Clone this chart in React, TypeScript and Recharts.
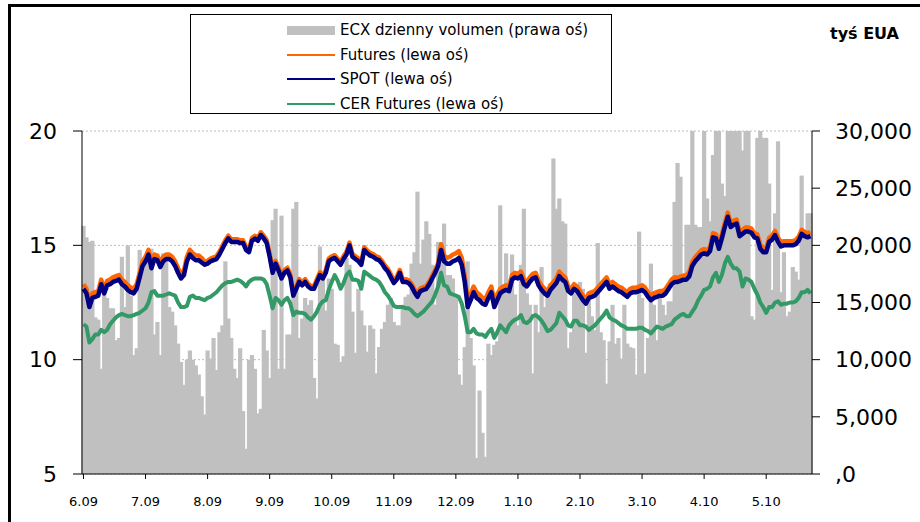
import React from 'react';
import { ComposedChart, Bar, Line, XAxis, YAxis, CartesianGrid } from 'recharts';

// month tick labels, one every 21 trading days
const monthLabels = ['6.09', '7.09', '8.09', '9.09', '10.09', '11.09', '12.09', '1.10', '2.10', '3.10', '4.10', '5.10'];
const daysPerMonth = 21;

// ECX daily volume (right axis, tys EUA)
const volume = [
  21700, 20700, 20300, 20400, 13700, 13500, 9200, 16200, 15400, 14500,
  14500, 11700, 11900, 19000, 14600, 20000, 15600, 10400, 11000, 19600,
  17700, 18900, 19200, 19700, 12200, 13300, 10400, 19300, 19200, 14600,
  14200, 13000, 11400, 9800, 7800, 10000, 10800, 10000, 9500, 8700,
  6800, 5200, 10800, 10100, 11900, 9100, 12400, 13000, 18600, 13600,
  11900, 9200, 8400, 11000, 5500, 2200, 10000, 10400, 9200, 5300,
  5700, 12600, 10800, 8400, 22200, 23200, 9200, 22600, 9200, 12200,
  12200, 23200, 23800, 11900, 13600, 15400, 14800, 15200, 8400, 6600,
  19900, 17500, 14300, 17100, 16200, 11400, 11300, 9800, 10300, 18900,
  18300, 14200, 10600, 16200, 14300, 13000, 10700, 13000, 12700, 8800,
  11100, 12700, 13300, 14800, 15400, 13300, 13000, 13000, 14800, 15500,
  15700, 18400, 19400, 24700, 18400, 20500, 22100, 21000, 18300, 14800,
  20300, 20200, 21900, 17400, 17400, 17100, 15400, 8700, 7800, 11100,
  18600, 11900, 9500, 1400, 7300, 3600, 1500, 11400, 10400, 11300,
  11600, 23500, 16200, 19300, 16800, 19200, 15700, 13000, 18300, 23200,
  15800, 14800, 8800, 14800, 12400, 18100, 14600, 16200, 16700, 27600,
  23200, 24100, 22100, 21900, 11000, 12400, 16700, 15800, 16800, 16200,
  10600, 15900, 13800, 12600, 20200, 12400, 11700, 7900, 11600, 14800,
  11400, 11900, 10100, 14800, 11400, 11100, 11000, 8700, 21200, 15400,
  8800, 11900, 18400, 14800, 11700, 15400, 14800, 13900, 15100, 15100,
  23800, 27200, 26000, 17000, 21800, 21800, 31000, 21800, 21600, 21600,
  31000, 24100, 22100, 27900, 30500, 32000, 25400, 24300, 31000, 30500,
  33000, 31000, 30500, 28300, 31000, 30500, 13800, 13500, 29400, 31000,
  29400, 29400, 25400, 16100, 22800, 29100, 15900, 19400, 13800, 14200,
  18100, 17700, 17000, 26100, 20600, 22800, 22800,
];

// Futures (left axis, EUR)
const futures = [
  13.3, 13.1, 12.5, 12.9, 12.95, 13.0, 13.5, 13.1, 13.45, 13.5,
  13.6, 13.65, 13.7, 13.5, 13.4, 13.25, 13.15, 13.1, 13.3, 13.8,
  14.3, 14.5, 14.8, 14.2, 14.6, 14.55, 14.25, 14.5, 14.6, 14.6,
  14.5, 14.3, 14.0, 13.75, 13.9, 14.5, 14.8, 14.65, 14.55, 14.55,
  14.45, 14.27, 14.32, 14.42, 14.47, 14.52, 14.72, 14.97, 15.22, 15.42,
  15.27, 15.27, 15.27, 15.22, 15.22, 14.92, 14.82, 15.32, 15.42, 15.32,
  15.57, 15.42, 15.22, 14.62, 13.92, 14.32, 14.02, 13.67, 13.92, 14.02,
  13.72, 12.92, 13.22, 13.52, 13.37, 13.52, 13.32, 13.22, 13.22, 13.52,
  13.82, 13.67, 13.92, 14.42, 14.52, 14.57, 14.42, 14.27, 14.52, 14.72,
  15.12, 14.62, 14.52, 14.42, 14.27, 14.92, 14.77, 14.67, 14.62, 14.52,
  14.47, 14.32, 14.12, 13.97, 13.72, 13.47, 13.62, 13.92, 13.52, 13.52,
  13.47, 13.32, 13.07, 12.87, 13.12, 13.17, 13.22, 13.42, 13.67, 13.92,
  14.22, 15.05, 14.55, 14.45, 14.5, 14.6, 14.65, 14.75, 14.45, 13.65,
  12.6, 12.85, 13.2, 12.95, 12.85, 12.7, 12.65, 12.95, 13.2, 12.55,
  12.85, 13.1, 13.2, 13.25, 13.2, 13.7, 13.8, 13.75, 13.85, 13.5,
  13.4, 13.6, 13.75, 13.8, 13.45, 13.25, 13.1, 13.0, 13.25, 13.4,
  13.55, 13.85, 13.7, 13.6, 13.2, 13.1, 13.3, 13.2, 13.0, 12.8,
  12.65, 12.9, 12.95, 13.0, 13.15, 13.3, 13.45, 13.6, 13.3, 13.4,
  13.3, 13.2, 13.15, 13.05, 12.95, 13.1, 13.15, 13.15, 13.2, 13.25,
  13.15, 12.95, 12.8, 12.9, 12.95, 13.0, 13.0, 13.1, 13.3, 13.5,
  13.6, 13.58, 13.63, 13.68, 13.68, 13.83, 14.28, 14.48, 14.63, 14.78,
  14.83, 14.78, 14.93, 15.53, 15.48, 15.03, 15.48, 15.98, 16.43, 15.98,
  16.08, 16.13, 15.58, 15.68, 15.78, 15.78, 15.73, 15.53, 15.48, 15.03,
  14.88, 14.88, 15.33, 15.43, 15.63, 15.33, 15.13, 15.18, 15.18, 15.18,
  15.18, 15.23, 15.38, 15.68, 15.58, 15.53, 15.58,
];

// SPOT (left axis, EUR)
const spot = [
  13.1, 12.9, 12.3, 12.7, 12.75, 12.8, 13.3, 12.9, 13.25, 13.3,
  13.4, 13.45, 13.5, 13.3, 13.2, 13.05, 12.95, 12.9, 13.1, 13.6,
  14.1, 14.3, 14.6, 14.0, 14.4, 14.35, 14.05, 14.3, 14.4, 14.4,
  14.3, 14.1, 13.8, 13.55, 13.7, 14.3, 14.6, 14.45, 14.35, 14.35,
  14.25, 14.15, 14.2, 14.3, 14.35, 14.4, 14.6, 14.85, 15.1, 15.3,
  15.15, 15.15, 15.15, 15.1, 15.1, 14.8, 14.7, 15.2, 15.3, 15.2,
  15.45, 15.3, 15.1, 14.5, 13.8, 14.2, 13.9, 13.55, 13.8, 13.9,
  13.6, 12.8, 13.1, 13.4, 13.25, 13.4, 13.2, 13.1, 13.1, 13.4,
  13.7, 13.55, 13.8, 14.3, 14.4, 14.45, 14.3, 14.15, 14.4, 14.6,
  15.0, 14.5, 14.4, 14.3, 14.15, 14.8, 14.65, 14.55, 14.5, 14.4,
  14.35, 14.2, 14.0, 13.85, 13.6, 13.35, 13.5, 13.8, 13.4, 13.4,
  13.35, 13.2, 12.95, 12.75, 13.0, 13.05, 13.1, 13.3, 13.55, 13.8,
  14.1, 14.8, 14.3, 14.2, 14.2, 14.3, 14.35, 14.45, 14.15, 13.4,
  12.3, 12.6, 12.95, 12.7, 12.6, 12.45, 12.4, 12.7, 12.95, 12.3,
  12.6, 12.9, 13.0, 13.05, 13.0, 13.5, 13.6, 13.55, 13.65, 13.3,
  13.2, 13.4, 13.55, 13.6, 13.25, 13.05, 12.9, 12.8, 13.05, 13.2,
  13.35, 13.65, 13.5, 13.4, 13.0, 12.9, 13.1, 13.0, 12.8, 12.6,
  12.45, 12.7, 12.75, 12.8, 12.95, 13.1, 13.25, 13.4, 13.1, 13.2,
  13.1, 13.0, 12.95, 12.85, 12.75, 12.9, 12.95, 12.95, 13.0, 13.05,
  12.95, 12.75, 12.6, 12.7, 12.75, 12.8, 12.8, 12.9, 13.1, 13.3,
  13.4, 13.4, 13.45, 13.5, 13.5, 13.65, 14.1, 14.3, 14.45, 14.6,
  14.65, 14.6, 14.75, 15.35, 15.3, 14.85, 15.3, 15.8, 16.25, 15.8,
  15.9, 15.95, 15.4, 15.5, 15.6, 15.6, 15.55, 15.35, 15.3, 14.85,
  14.7, 14.7, 15.15, 15.25, 15.45, 15.15, 14.95, 15.0, 15.0, 15.0,
  15.0, 15.05, 15.2, 15.5, 15.4, 15.35, 15.4,
];

// CER Futures (left axis, EUR)
const cer = [
  11.55, 11.45, 10.75, 10.9, 11.1, 11.1, 11.3, 11.2, 11.3, 11.55,
  11.7, 11.85, 11.95, 12.0, 11.95, 11.9, 11.9, 11.95, 12.0, 12.05,
  12.15, 12.25, 12.5, 12.95, 13.0, 12.8, 12.8, 12.8, 12.85, 12.9,
  12.85, 12.8, 12.5, 12.3, 12.3, 12.35, 12.75, 12.8, 12.7, 12.7,
  12.65, 12.6, 12.7, 12.75, 12.85, 12.95, 13.1, 13.25, 13.35, 13.4,
  13.4, 13.45, 13.5, 13.45, 13.35, 13.2, 13.4, 13.5, 13.55, 13.55,
  13.55, 13.5, 13.3, 12.8, 12.25, 12.7, 12.6, 12.4, 12.6, 12.7,
  12.45, 11.95, 12.1, 12.05, 12.05, 12.0, 11.85, 11.75, 11.9, 12.1,
  12.4, 12.55, 12.6, 13.05, 13.4, 13.7, 13.45, 13.1, 13.35, 13.7,
  13.85, 13.5, 13.5, 13.45, 13.1, 13.85, 13.75, 13.65, 13.55, 13.5,
  13.4, 13.2, 12.95, 12.8, 12.6, 12.35, 12.3, 12.3, 12.3, 12.25,
  12.25, 12.15, 12.0, 11.9, 12.0, 12.1, 12.25, 12.4, 12.55, 12.85,
  13.2, 13.8, 13.25, 13.2, 12.9, 12.85, 12.8, 12.75, 12.45, 11.9,
  11.2, 11.2, 11.35, 11.15, 11.1, 11.1, 11.0, 11.2, 11.35, 10.95,
  11.2, 11.5, 11.35, 11.2, 11.5, 11.65, 11.75, 11.8, 11.95, 11.65,
  11.6, 11.7, 11.9, 11.95, 11.85, 11.7, 11.5, 11.25, 11.3, 11.45,
  11.6, 12.05, 11.9, 11.75, 11.5, 11.45, 11.7, 11.7, 11.5, 11.5,
  11.45, 11.3, 11.4, 11.5, 11.65, 11.8, 11.95, 12.15, 11.85, 11.75,
  11.7, 11.6, 11.5, 11.45, 11.35, 11.35, 11.35, 11.35, 11.4, 11.4,
  11.3, 11.25, 11.15, 11.3, 11.45, 11.4, 11.35, 11.45, 11.5, 11.55,
  11.75, 11.85, 11.95, 12.0, 11.9, 11.9, 12.1, 12.3, 12.6, 12.8,
  13.05, 13.1, 13.2, 13.6, 13.8, 13.4, 13.7, 14.2, 14.5, 14.2,
  14.0, 14.0, 13.85, 13.2, 13.55, 13.5, 13.4, 13.1, 12.85, 12.5,
  12.3, 12.05, 12.3, 12.3, 12.5, 12.55, 12.4, 12.45, 12.45, 12.5,
  12.5, 12.55, 12.7, 12.95, 12.95, 13.05, 12.9,
];

const leftTicks = [5, 10, 15, 20];
const rightTicks = [0, 5000, 10000, 15000, 20000, 25000, 30000];
const xTicks = monthLabels.map((_, k) => k * daysPerMonth);

const data = spot.map((s, i) => ({
  day: i,
  volume: volume[i],
  futures: futures[i],
  spot: s,
  cer: cer[i],
}));

const FONT = '"DejaVu Sans", Verdana, sans-serif';

const legendItems = [
  { label: 'ECX dzienny volumen (prawa oś)', color: '#C0C0C0', bar: true },
  { label: 'Futures (lewa oś)', color: '#FF6600', bar: false },
  { label: 'SPOT (lewa oś)', color: '#000080', bar: false },
  { label: 'CER Futures (lewa oś)', color: '#339966', bar: false },
];

function formatRight(v: number) {
  if (v === 0) return ',0';
  return v.toLocaleString('en-US');
}

// widen each bar a little so neighbours touch like the Excel original
function VolumeBar(props: any) {
  const { x, y, width, height } = props;
  if (!height || height <= 0) return null;
  return <rect x={x - 0.6} y={y} width={width + 1.2} height={height} fill="#C0C0C0" />;
}

export default function App() {
  return (
    <div style={{ position: 'absolute', left: 0, top: 0, width: 920, height: 522, overflow: 'hidden', background: '#fff', fontFamily: FONT }}>
      {/* outer frame, only top and left edges fall inside the picture */}
      <div style={{ position: 'absolute', left: 8, top: 4, width: 940, height: 540, borderTop: '3px solid #000', borderLeft: '3px solid #000' }} />

      <ComposedChart
        width={920}
        height={522}
        data={data}
        margin={{ top: 131, right: 0, bottom: 0, left: 0 }}
        barCategoryGap={0}
        barGap={0}
        style={{ position: 'absolute', left: 0, top: 0 }}
      >
        <CartesianGrid yAxisId="left" vertical={false} stroke="#bdbdbd" strokeDasharray="2 2" />
        <XAxis
          dataKey="day"
          ticks={xTicks}
          interval={0}
          tickFormatter={(v: number) => monthLabels[v / daysPerMonth]}
          height={48}
          tickSize={5}
          tickMargin={18}
          axisLine={{ stroke: '#000' }}
          tickLine={{ stroke: '#000' }}
          tick={{ fill: '#000', fontSize: 13, fontFamily: FONT }}
        />
        <YAxis
          yAxisId="left"
          domain={[5, 20]}
          ticks={leftTicks}
          width={82}
          tickSize={9}
          tickMargin={16}
          axisLine={{ stroke: '#000' }}
          tickLine={{ stroke: '#000' }}
          tick={{ fill: '#000', fontSize: 22, fontFamily: FONT }}
        />
        <YAxis
          yAxisId="right"
          orientation="right"
          domain={[0, 30000]}
          ticks={rightTicks}
          allowDataOverflow
          width={108}
          tickSize={8}
          tickMargin={15}
          tickFormatter={formatRight}
          axisLine={{ stroke: '#000' }}
          tickLine={{ stroke: '#000' }}
          tick={{ fill: '#000', fontSize: 22, fontFamily: FONT }}
        />
        <Bar yAxisId="right" dataKey="volume" fill="#C0C0C0" shape={VolumeBar} isAnimationActive={false} />
        <Line yAxisId="left" type="linear" dataKey="cer" stroke="#339966" strokeWidth={4} strokeLinejoin="round" dot={false} activeDot={false} isAnimationActive={false} />
        <Line yAxisId="left" type="linear" dataKey="futures" stroke="#FF6600" strokeWidth={4.5} strokeLinejoin="round" dot={false} activeDot={false} isAnimationActive={false} />
        <Line yAxisId="left" type="linear" dataKey="spot" stroke="#000080" strokeWidth={4.5} strokeLinejoin="round" dot={false} activeDot={false} isAnimationActive={false} />
      </ComposedChart>

      {/* legend */}
      <div style={{ position: 'absolute', left: 190, top: 14, width: 420, height: 98, border: '1px solid #000', background: '#fff' }}>
        {legendItems.map((it, k) => (
          <div key={it.label} style={{ position: 'absolute', left: 96, top: 5 + k * 24.5, height: 20, display: 'flex', alignItems: 'center' }}>
            <div style={{ width: 48, height: it.bar ? 9 : 2, background: it.color }} />
            <span style={{ marginLeft: 5, fontSize: 15, color: '#000', whiteSpace: 'nowrap' }}>{it.label}</span>
          </div>
        ))}
      </div>

      <div style={{ position: 'absolute', left: 830, top: 24, fontSize: 16, fontWeight: 'bold', color: '#000' }}>tyś EUA</div>
    </div>
  );
}
